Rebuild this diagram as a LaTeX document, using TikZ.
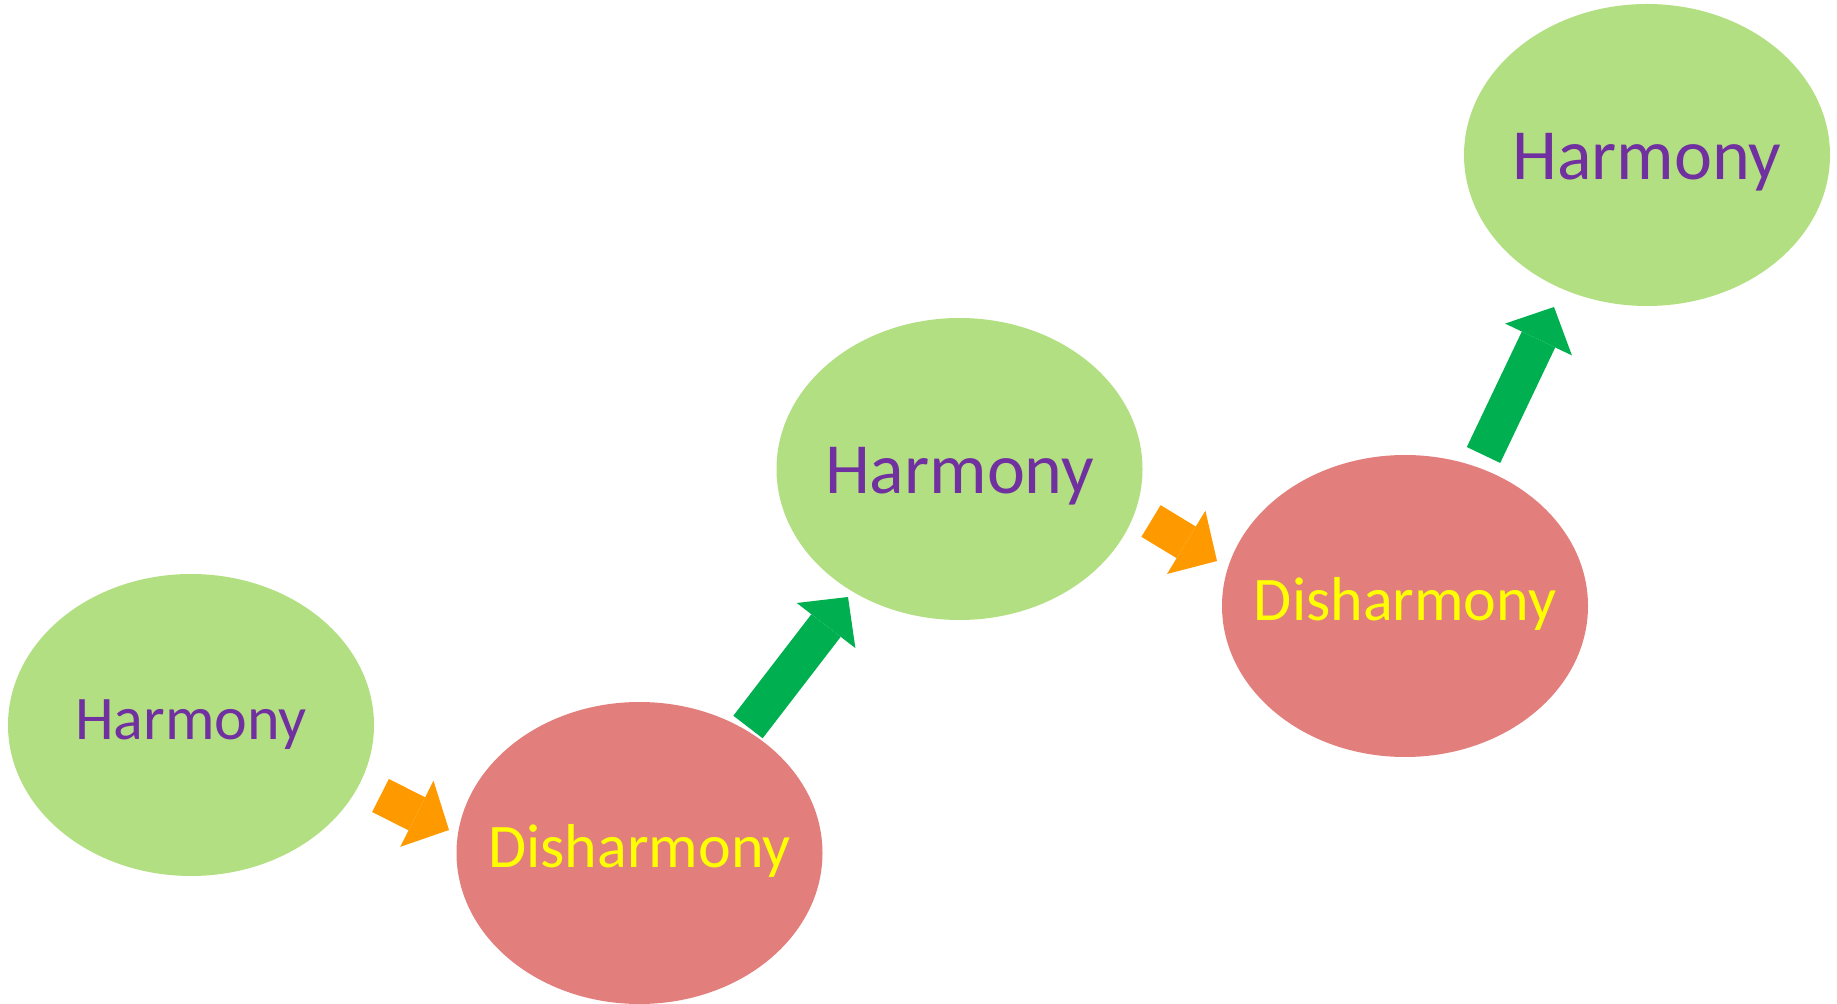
\documentclass[tikz,border=0pt]{standalone}
\usepackage{fontspec}
\setmainfont{Carlito}
\usetikzlibrary{shapes.geometric, arrows.meta}

\definecolor{harmfill}{HTML}{B3DF83}
\definecolor{harmtext}{HTML}{7030A0}
\definecolor{disfill}{HTML}{E27F7D}
\definecolor{distext}{HTML}{FFFF00}
\definecolor{steporange}{HTML}{FF9900}
\definecolor{stepgreen}{HTML}{00B050}

\begin{document}
\begin{tikzpicture}[x=0.5pt, y=-0.5pt,
  blob/.style={ellipse, inner sep=0pt, minimum width=183pt, minimum height=151pt},
  harm/.style={blob, fill=harmfill, text=harmtext},
  disharm/.style={blob, fill=disfill, text=distext},
  small/.style={font=\fontsize{31}{37}\selectfont, text height=22pt, text depth=7pt},
  big/.style={font=\fontsize{36}{43}\selectfont, text height=30pt, text depth=5.5pt},
  fall/.style={line width=18.5pt, draw=steporange,
    -{Triangle[width=37pt, length=18pt, line width=0pt]}},
  rise/.style={fall, draw=stepgreen}]
  \useasboundingbox (0,0) rectangle (1837,1004);
  \node [harm, small] (h1) at (191,725) {\makebox[0pt]{Harmony}};
  \node [disharm, small] (d1) at (639.5,853) {\makebox[0pt]{Disharmony}};
  \node [harm, big] (h2) at (959.5,469) {\makebox[0pt]{Harmony}};
  \node [disharm, small] (d2) at (1405,606) {\makebox[0pt]{Disharmony}};
  \node [harm, big] (h3) at (1647,155) {\makebox[0pt]{Harmony}};
  \coordinate (o1s) at (380.5,795.5);
  \coordinate (o1e) at (449,830);
  \coordinate (g1s) at (748,727);
  \coordinate (g1e) at (848,597);
  \coordinate (o2s) at (1151,521);
  \coordinate (o2e) at (1217,561);
  \coordinate (g2s) at (1483.5,455);
  \coordinate (g2e) at (1554,307);
  \draw [fall] (o1s) -- (o1e);
  \draw [rise] (g1s) -- (g1e);
  \draw [fall] (o2s) -- (o2e);
  \draw [rise] (g2s) -- (g2e);
\end{tikzpicture}
\end{document}
